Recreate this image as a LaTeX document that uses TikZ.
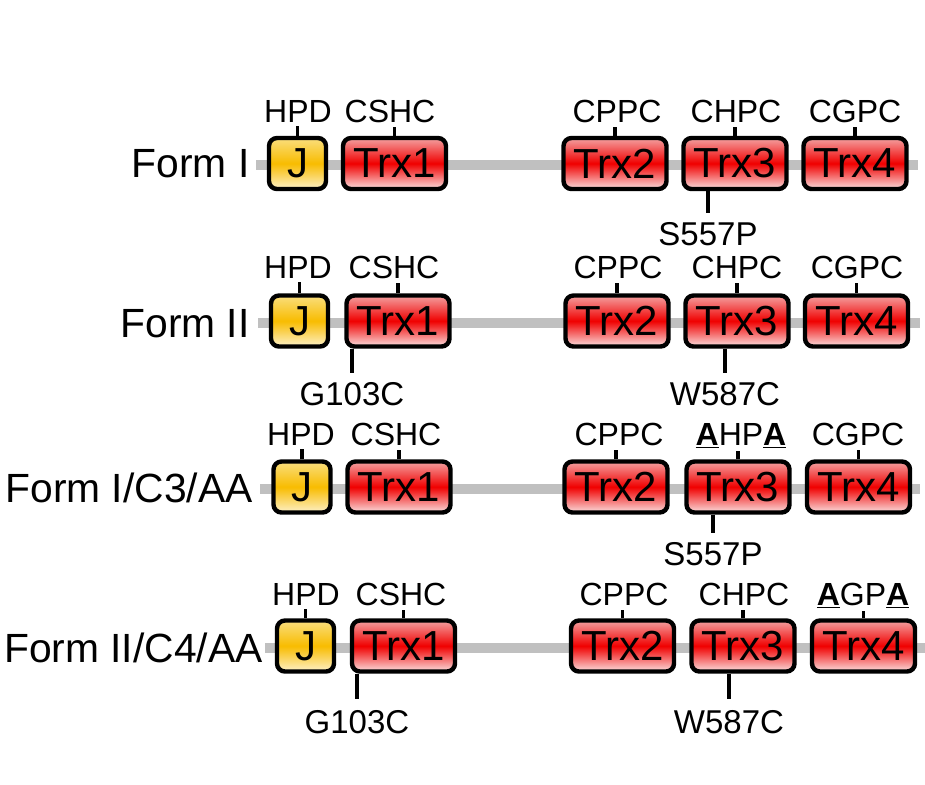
\documentclass[tikz,border=0pt]{standalone}
\usepackage{fontspec}
\setmainfont{Liberation Sans}
\usetikzlibrary{positioning,calc}
\definecolor{trxmid}{RGB}{240,0,0}
\definecolor{trxtop}{RGB}{244,160,160}
\definecolor{trxbot}{RGB}{250,222,222}
\definecolor{jmid}{RGB}{248,188,0}
\definecolor{jtop}{RGB}{250,222,125}
\definecolor{jbot}{RGB}{253,240,200}
\definecolor{linegray}{RGB}{192,192,192}
\tikzset{
trxnode/.style={rectangle, rounded corners=4pt, draw=black, line width=2.2pt, minimum width=51.5pt, minimum height=25.5pt, inner sep=0pt,
                top color=trxtop, bottom color=trxbot, middle color=trxmid, font=\fontsize{21}{25}\selectfont},
jnode/.style={trxnode, minimum width=28.5pt, top color=jtop, bottom color=jbot, middle color=jmid},
motif/.style={anchor=base, inner sep=0pt, font=\fontsize{16}{19}\selectfont},
mutation/.style={anchor=north, inner sep=0pt, font=\fontsize{16.5}{20}\selectfont},
formlabel/.style={anchor=base east, inner sep=0pt, font=\fontsize{20.4}{24}\selectfont},
backbone/.style={draw=linegray, line width=5pt},
tick/.style={draw=black, line width=1.6pt}
}
\newcommand{\alaA}{\underline{\textbf{A}}}

\begin{document}
\begin{tikzpicture}[x=0.5pt, y=-0.5pt]
\useasboundingbox (0,0) rectangle (925,784);

%Backbones
\coordinate (startA) at (256,165); \coordinate (endA) at (918,165);
\coordinate (startB) at (258,323); \coordinate (endB) at (920,323);
\coordinate (startC) at (260,489); \coordinate (endC) at (920,489);
\coordinate (startD) at (265,648); \coordinate (endD) at (925,648);
\draw[backbone] (startA) -- (endA);
\draw[backbone] (startB) -- (endB);
\draw[backbone] (startC) -- (endC);
\draw[backbone] (startD) -- (endD);

%Form I
\node[formlabel] (formA) at (250,177) {Form I};
\node[jnode] (jA) at (297.5,163.5) {J};
\node[trxnode] (trx1A) at (394.5,163.5) {Trx1};
\node[trxnode] (trx2A) at (615,163.5) {Trx2};
\node[trxnode] (trx3A) at (735,163.5) {Trx3};
\node[trxnode] (trx4A) at (855,163.5) {Trx4};
\node[motif] (hpdA) at (298,122) {HPD};
\node[motif] (cshcA) at (390,122) {CSHC};
\node[motif] (cppcA) at (617,122) {CPPC};
\node[motif] (chpcA) at (736,122) {CHPC};
\node[motif] (cgpcA) at (855,122) {CGPC};
\node[mutation] (mutA) at (708,222) {S557P};

%Form II
\node[formlabel] (formB) at (250,337) {Form II};
\node[jnode] (jB) at (299.5,321) {J};
\node[trxnode] (trx1B) at (398,321) {Trx1};
\node[trxnode] (trx2B) at (617,321) {Trx2};
\node[trxnode] (trx3B) at (737,321) {Trx3};
\node[trxnode] (trx4B) at (856.5,321) {Trx4};
\node[motif] (hpdB) at (298,278) {HPD};
\node[motif] (cshcB) at (394,278) {CSHC};
\node[motif] (cppcB) at (618,278) {CPPC};
\node[motif] (chpcB) at (737,278) {CHPC};
\node[motif] (cgpcB) at (857,278) {CGPC};
\node[mutation] (mut1B) at (352,382) {G103C};
\node[mutation] (mut3B) at (725,382) {W587C};

%Form I/C3/AA
\node[formlabel] (formC) at (253,502) {Form I/C3/AA};
\node[jnode] (jC) at (302,487) {J};
\node[trxnode] (trx1C) at (399,487) {Trx1};
\node[trxnode] (trx2C) at (616,487) {Trx2};
\node[trxnode] (trx3C) at (738,487) {Trx3};
\node[trxnode] (trx4C) at (858.5,487) {Trx4};
\node[motif] (hpdC) at (301,445) {HPD};
\node[motif] (cshcC) at (396,445) {CSHC};
\node[motif] (cppcC) at (619,445) {CPPC};
\node[motif] (ahpaC) at (741,445) {\alaA HP\alaA};
\node[motif] (cgpcC) at (858,445) {CGPC};
\node[mutation] (mutC) at (713,542) {S557P};

%Form II/C4/AA
\node[formlabel] (formD) at (263,662) {Form II/C4/AA};
\node[jnode] (jD) at (305.5,646) {J};
\node[trxnode] (trx1D) at (403.5,646) {Trx1};
\node[trxnode] (trx2D) at (622.5,646) {Trx2};
\node[trxnode] (trx3D) at (743,646) {Trx3};
\node[trxnode] (trx4D) at (863.5,646) {Trx4};
\node[motif] (hpdD) at (306,605) {HPD};
\node[motif] (cshcD) at (401,605) {CSHC};
\node[motif] (cppcD) at (624,605) {CPPC};
\node[motif] (chpcD) at (744,605) {CHPC};
\node[motif] (agpaD) at (863,605) {\alaA GP\alaA};
\node[mutation] (mut1D) at (357,710) {G103C};
\node[mutation] (mut3D) at (729,710) {W587C};

%Motif ticks
\draw[tick, shorten >=2pt] (jA.north) -- (jA.north |- hpdA.south);
\draw[tick, shorten >=2pt] (trx1A.north) -- (trx1A.north |- cshcA.south);
\draw[tick, shorten >=2pt] (trx2A.north) -- (trx2A.north |- cppcA.south);
\draw[tick, shorten >=2pt] (trx3A.north) -- (trx3A.north |- chpcA.south);
\draw[tick, shorten >=2pt] (trx4A.north) -- (trx4A.north |- cgpcA.south);
\draw[tick, shorten >=2pt] (jB.north) -- (jB.north |- hpdB.south);
\draw[tick, shorten >=2pt] (trx1B.north) -- (trx1B.north |- cshcB.south);
\draw[tick, shorten >=2pt] (trx2B.north) -- (trx2B.north |- cppcB.south);
\draw[tick, shorten >=2pt] (trx3B.north) -- (trx3B.north |- chpcB.south);
\draw[tick, shorten >=2pt] (trx4B.north) -- (trx4B.north |- cgpcB.south);
\draw[tick, shorten >=2pt] (jC.north) -- (jC.north |- hpdC.south);
\draw[tick, shorten >=2pt] (trx1C.north) -- (trx1C.north |- cshcC.south);
\draw[tick, shorten >=2pt] (trx2C.north) -- (trx2C.north |- cppcC.south);
\draw[tick, shorten >=1pt] (trx3C.north) -- (trx3C.north |- ahpaC.south);
\draw[tick, shorten >=2pt] (trx4C.north) -- (trx4C.north |- cgpcC.south);
\draw[tick, shorten >=2pt] (jD.north) -- (jD.north |- hpdD.south);
\draw[tick, shorten >=2pt] (trx1D.north) -- (trx1D.north |- cshcD.south);
\draw[tick, shorten >=2pt] (trx2D.north) -- (trx2D.north |- cppcD.south);
\draw[tick, shorten >=2pt] (trx3D.north) -- (trx3D.north |- chpcD.south);
\draw[tick, shorten >=1pt] (trx4D.north) -- (trx4D.north |- agpaD.south);

%Mutation ticks
\draw[tick, shorten >=4.5pt] (trx3A.south -| mutA.north) -- (mutA.north);
\draw[tick, shorten >=4.5pt] (trx1B.south -| mut1B.north) -- (mut1B.north);
\draw[tick, shorten >=4.5pt] (trx3B.south -| mut3B.north) -- (mut3B.north);
\draw[tick, shorten >=4.5pt] (trx3C.south -| mutC.north) -- (mutC.north);
\draw[tick, shorten >=5.5pt] (trx1D.south -| mut1D.north) -- (mut1D.north);
\draw[tick, shorten >=5.5pt] (trx3D.south -| mut3D.north) -- (mut3D.north);

\end{tikzpicture}
\end{document}
